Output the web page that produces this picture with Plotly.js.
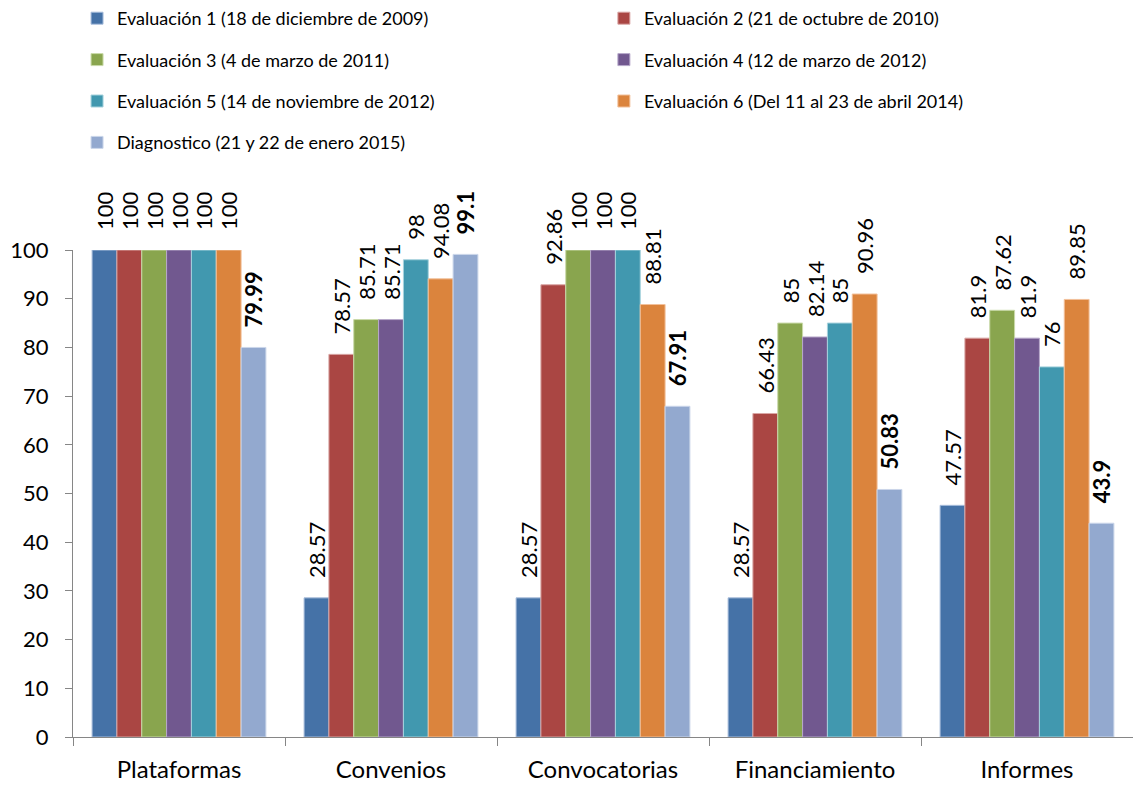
<!DOCTYPE html>
<html>
<head>
<meta charset="utf-8">
<script src="https://cdn.plot.ly/plotly-3.0.1.min.js"></script>
<style>html,body{margin:0;padding:0;background:#fff;}#chart{width:1133px;height:787px;}</style>
</head>
<body>
<div id="chart"></div>
<script>
var categories = ["Plataformas", "Convenios", "Convocatorias", "Financiamiento", "Informes"];
var seriesNames = [
  "Evaluación 1 (18 de diciembre de 2009)",
  "Evaluación 2 (21 de octubre de 2010)",
  "Evaluación 3 (4 de marzo de 2011)",
  "Evaluación 4 (12 de marzo de 2012)",
  "Evaluación 5 (14 de noviembre de 2012)",
  "Evaluación 6 (Del 11 al 23 de abril 2014)",
  "Diagnostico (21 y 22 de enero 2015)"
];
var eval1 = [100, 28.57, 28.57, 28.57, 47.57];
var eval2 = [100, 78.57, 92.86, 66.43, 81.9];
var eval3 = [100, 85.71, 100, 85, 87.62];
var eval4 = [100, 85.71, 100, 82.14, 81.9];
var eval5 = [100, 98, 100, 85, 76];
var eval6 = [100, 94.08, 88.81, 90.96, 89.85];
var diagnostico = [79.99, 99.1, 67.91, 50.83, 43.9];
var colors = ["#4572A7", "#AA4643", "#89A54E", "#71588F", "#4198AF", "#DB843D", "#93A9CF"];
var lineColors = ["#A9BEDC", "#D9A6A4", "#C9DAA9", "#B7A8CA", "#A6D2DD", "#F2C09A", "#CBD6EA"];

var allSeries = [eval1, eval2, eval3, eval4, eval5, eval6, diagnostico];
var FONT = "Lato, 'Open Sans', sans-serif";
var PAD = "\u00a0\u00a0\u00a0";

var traces = allSeries.map(function (vals, i) {
  var last = i === allSeries.length - 1;
  return {
    type: "bar",
    name: seriesNames[i],
    x: categories,
    y: vals,
    marker: { color: colors[i], line: { color: lineColors[i], width: 1 } },
    texttemplate: last ? PAD + "<b>%{y}</b>" : PAD + "%{y}",
    textposition: "outside",
    textangle: -90,
    constraintext: "none",
    cliponaxis: false,
    textfont: { family: FONT, size: 22, color: "#000" },
    legend: (i % 2 === 0) ? "legend" : "legend2",
    legendgroup: "g" + i,
    hoverinfo: "skip"
  };
});

var legendCommon = {
  orientation: "v",
  xref: "container", yref: "container",
  xanchor: "left", yanchor: "top",
  font: { family: FONT, size: 18, color: "#000" },
  tracegroupgap: 15,
  bgcolor: "rgba(0,0,0,0)",
  traceorder: "grouped",
  itemclick: false
};

var layout = {
  width: 1133,
  height: 787,
  margin: { l: 73, r: 0, t: 250, b: 50, autoexpand: false },
  paper_bgcolor: "#fff",
  plot_bgcolor: "#fff",
  barmode: "group",
  bargap: 0.18,
  bargroupgap: 0,
  showlegend: true,
  legend: Object.assign({}, legendCommon, { x: 0.068, y: 1.0 }),
  legend2: Object.assign({}, legendCommon, { x: 0.533, y: 1.0 }),
  font: { family: FONT, color: "#000" },
  xaxis: {
    type: "category",
    showline: true,
    linecolor: "#868686",
    linewidth: 1,
    ticks: "outside",
    tickson: "boundaries",
    ticklen: 8,
    tickcolor: "#868686",
    ticklabelstandoff: 11,
    tickangle: 0,
    tickfont: { family: FONT, size: 24, color: "#000" },
    showgrid: false,
    zeroline: false,
    fixedrange: true
  },
  yaxis: {
    range: [0, 100],
    dtick: 10,
    showline: true,
    linecolor: "#868686",
    linewidth: 1,
    ticks: "outside",
    ticklen: 7,
    tickcolor: "#868686",
    ticklabelstandoff: 12,
    tickfont: { family: FONT, size: 22, color: "#000" },
    showgrid: false,
    zeroline: false,
    fixedrange: true
  }
};

Plotly.newPlot("chart", traces, layout, { displayModeBar: false, staticPlot: true });
</script>
</body>
</html>
